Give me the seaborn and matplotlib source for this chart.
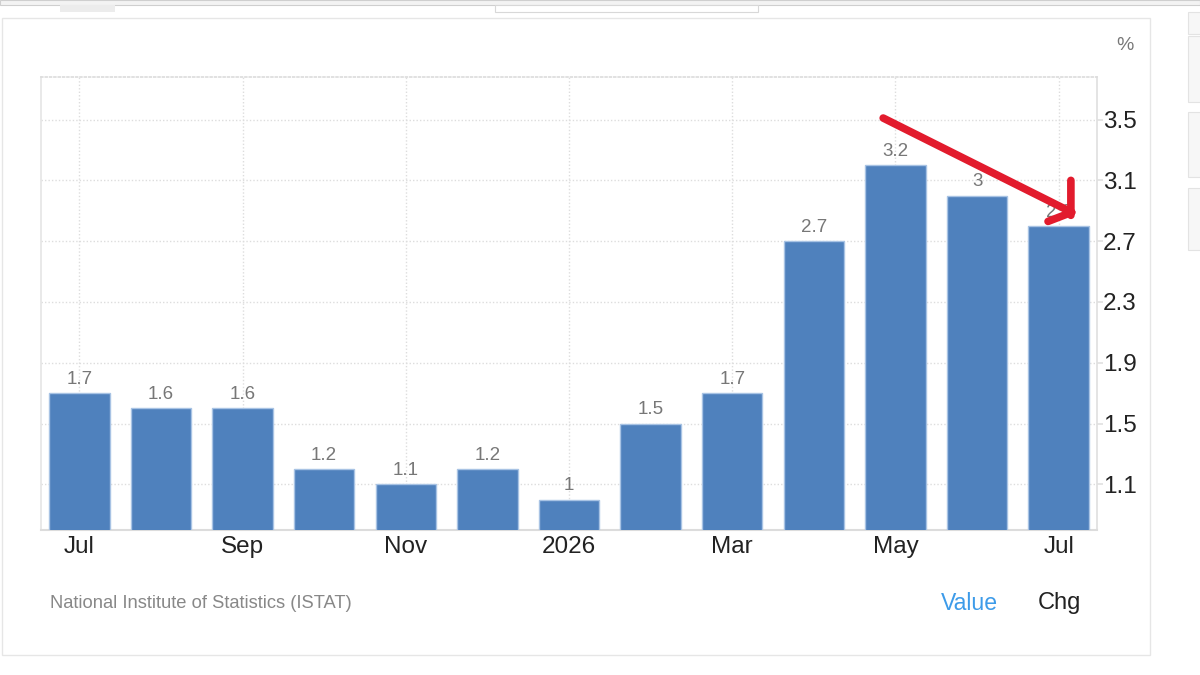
import matplotlib
matplotlib.use("Agg")
import matplotlib.pyplot as plt
import matplotlib.patches as mpatches
import seaborn as sns
import pandas as pd

months = ["Jul", "Aug", "Sep", "Oct", "Nov", "Dec", "Jan",
          "Feb", "Mar", "Apr", "May", "Jun", "Jul2"]
values = [1.7, 1.6, 1.6, 1.2, 1.1, 1.2, 1.0, 1.5, 1.7, 2.7, 3.2, 3.0, 2.8]
value_labels = ["1.7", "1.6", "1.6", "1.2", "1.1", "1.2", "1", "1.5",
                "1.7", "2.7", "3.2", "3", "2.8"]
tick_pos = [0, 2, 4, 6, 8, 10, 12]
tick_text = ["Jul", "Sep", "Nov", "2026", "Mar", "May", "Jul"]
y_ticks = [1.1, 1.5, 1.9, 2.3, 2.7, 3.1, 3.5]

df = pd.DataFrame({"month": months, "value": values})

sns.set_theme(style="white")
plt.rcParams["font.family"] = ["Liberation Sans", "DejaVu Sans"]

fig = plt.figure(figsize=(12, 6.75), dpi=100)
ax = fig.add_axes([41 / 1200, 1 - 530 / 675, 1056 / 1200, 453 / 675])

sns.barplot(data=df, x="month", y="value", color="#4F81BD", saturation=1,
            width=0.74, edgecolor="#A8C3E4", linewidth=1, ax=ax, zorder=3)

for i, lab in enumerate(value_labels):
    ax.text(i, values[i] + 0.035, lab, ha="center", va="bottom",
            fontsize=13.5, color="#777777", zorder=4)

ax.set_xlim(-0.47, 12.47)
ax.set_ylim(0.8, 3.78)
ax.set_xticks(tick_pos)
ax.set_xticklabels(tick_text, fontsize=17.5, color="#222222")
ax.yaxis.tick_right()
ax.set_yticks(y_ticks)
ax.set_yticklabels([str(v) for v in y_ticks], fontsize=17.5, color="#222222")
ax.tick_params(axis="y", length=4, color="#e2e2e2", pad=0.5)
ax.tick_params(axis="x", length=0, pad=4)
ax.set_xlabel("")
ax.set_ylabel("")

for v in y_ticks:
    ax.axhline(v, color="#dddddd", lw=1, ls=(0, (1, 1.5)), zorder=1)
for p in tick_pos:
    ax.axvline(p, color="#dddddd", lw=1, ls=(0, (1, 1.5)), zorder=1)

for s in ["left", "right", "bottom", "top"]:
    ax.spines[s].set_visible(True)
ax.spines["top"].set_color("#dddddd")
ax.spines["top"].set_linestyle((0, (1, 1.5)))
ax.spines["left"].set_color("#e6e6e6")
ax.spines["right"].set_color("#e0e0e0")
ax.spines["bottom"].set_color("#dcdcdc")
ax.spines["bottom"].set_linewidth(1.5)

# red hand-drawn style arrow: shaft plus two head strokes
red = "#E21B2D"
strokes = [((9.85, 3.51), (12.16, 2.89)),
           ((12.15, 3.10), (12.15, 2.87)),
           ((11.87, 2.83), (12.16, 2.89))]
for start, end in strokes:
    ax.annotate("", xy=end, xytext=start,
                arrowprops=dict(arrowstyle="-", color=red, lw=5.5,
                                shrinkA=0, shrinkB=0, capstyle="round"),
                zorder=6)

# page / card decoration
fig.patches.append(mpatches.Rectangle((2 / 1200, 1 - 655 / 675), 1148 / 1200, 637 / 675,
                                      transform=fig.transFigure, fill=False,
                                      edgecolor="#e6e6e6", lw=1))
fig.patches.append(mpatches.Rectangle((0, 1 - 5 / 675), 1, 5 / 675,
                                      transform=fig.transFigure, facecolor="#f3f3f3",
                                      edgecolor="#cfcfcf", lw=0.8))
fig.patches.append(mpatches.Rectangle((60 / 1200, 1 - 12 / 675), 55 / 1200, 7 / 675,
                                      transform=fig.transFigure, facecolor="#ececec",
                                      edgecolor="none"))
fig.patches.append(mpatches.Rectangle((495 / 1200, 1 - 12 / 675), 263 / 1200, 7 / 675,
                                      transform=fig.transFigure, facecolor="white",
                                      edgecolor="#d8d8d8", lw=0.8))
for top, h in [(12, 22), (36, 66), (112, 65), (188, 62)]:
    fig.patches.append(mpatches.Rectangle((1188 / 1200, 1 - (top + h) / 675), 14 / 1200, h / 675,
                                          transform=fig.transFigure, facecolor="#f7f7f7",
                                          edgecolor="#e3e3e3", lw=0.8))

fig.text(1116 / 1200, 1 - 45 / 675, "%", fontsize=14, color="#777777", va="center")
fig.text(50 / 1200, 1 - 603 / 675, "National Institute of Statistics (ISTAT)",
         fontsize=13.2, color="#888888", va="center")
fig.text(941 / 1200, 1 - 603 / 675, "Value", fontsize=16.6, color="#3D9BE9", va="center")
fig.text(1038 / 1200, 1 - 603 / 675, "Chg", fontsize=17, color="#222222", va="center")

fig.savefig("out.png", dpi=100, facecolor="white")
